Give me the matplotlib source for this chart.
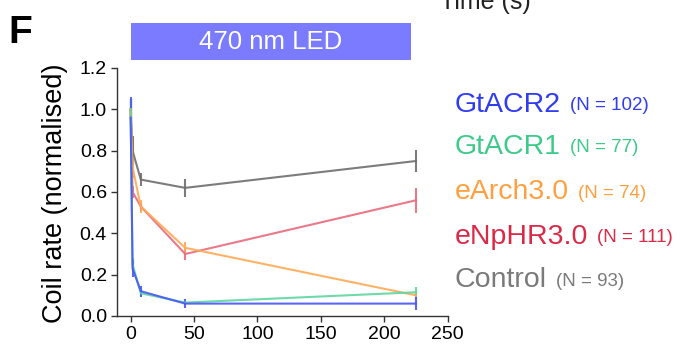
import matplotlib
matplotlib.use('Agg')
import matplotlib.pyplot as plt
from matplotlib.patches import Rectangle

plt.rcParams['font.family'] = ['Liberation Sans', 'DejaVu Sans']

# time points (s)
times = [0, 1.5, 8, 43, 225]

# series, drawn back to front
names = ['Control', 'eNpHR3.0', 'eArch3.0', 'GtACR1', 'GtACR2']
counts = [93, 111, 74, 77, 102]
line_colors = ['#6e6e6e', '#e86a7c', '#ffaa55', '#5fd6a0', '#4a55f5']
text_colors = ['#7a7a7a', '#d92b47', '#ffa040', '#3ccb8a', '#2f3cf0']

control = [1.0, 0.80, 0.66, 0.62, 0.75]
control_err = [0.05, 0.07, 0.03, 0.045, 0.055]
enphr = [1.0, 0.60, 0.53, 0.30, 0.56]
enphr_err = [0.05, 0.03, 0.02, 0.03, 0.06]
earch = [1.0, 0.72, 0.53, 0.33, 0.10]
earch_err = [0.05, 0.05, 0.03, 0.03, 0.02]
gtacr1 = [1.0, 0.25, 0.11, 0.065, 0.115]
gtacr1_err = [0.05, 0.03, 0.02, 0.01, 0.025]
gtacr2 = [0.96, 0.23, 0.12, 0.06, 0.06]
gtacr2_err = [0.1, 0.04, 0.027, 0.02, 0.03]

values = [control, enphr, earch, gtacr1, gtacr2]
errors = [control_err, enphr_err, earch_err, gtacr1_err, gtacr2_err]

W, H = 683, 344
fig = plt.figure(figsize=(W / 100, H / 100), dpi=100)
ax = fig.add_axes([116.7 / W, 1 - 316 / H, 331 / W, 248 / H])

for vals, errs, col in zip(values, errors, line_colors):
    ax.errorbar(times, vals, yerr=errs, color=col, lw=1.5, elinewidth=1.5,
                capsize=0, alpha=0.9)

ax.set_xlim(-11, 250)
ax.set_ylim(0, 1.2)
ax.set_xticks([0, 50, 100, 150, 200, 250])
ax.set_yticks([0, 0.2, 0.4, 0.6, 0.8, 1.0, 1.2])
ax.set_yticklabels(['0.0', '0.2', '0.4', '0.6', '0.8', '1.0', '1.2'])
ax.tick_params(labelsize=14, length=4, width=1, color='#333333', pad=3)
for s in ['top', 'right']:
    ax.spines[s].set_visible(False)
for s in ['left', 'bottom']:
    ax.spines[s].set_color('#333333')
    ax.spines[s].set_linewidth(1)

fig.text(55 / W, 1 - 193 / H, 'Coil rate (normalised)', rotation=90,
         ha='center', va='center', fontsize=19.5)

# LED bar
fig.patches.append(Rectangle((131 / W, 1 - 60 / H), 280 / W, 37 / H,
                             transform=fig.transFigure, color='#7b7bff', lw=0))
fig.text(271 / W, 1 - 42 / H, '470 nm LED', ha='center', va='center',
         color='white', fontsize=18.5)

fig.text(8 / W, 1 - 43 / H, 'F', fontsize=28, fontweight='bold', va='baseline')
# axis title of the panel above, cut off by the top edge as in the source
fig.text(440 / W, 1 - 9 / H, 'Time (s)', fontsize=18, va='baseline', color='#222222')

# legend text
ys = [280, 237, 192, 147, 105]
for name, n, col, y in zip(names, counts, text_colors, ys):
    t = fig.text(455 / W, 1 - y / H, name, color=col, fontsize=20.5, va='center')
    fig.canvas.draw()
    bb = t.get_window_extent()
    fig.text(bb.x1 / W + 9 / W, 1 - (y + 1) / H, f'(N = {n})', color=col,
             fontsize=13.5, va='center')

fig.savefig('out.png', dpi=100)
